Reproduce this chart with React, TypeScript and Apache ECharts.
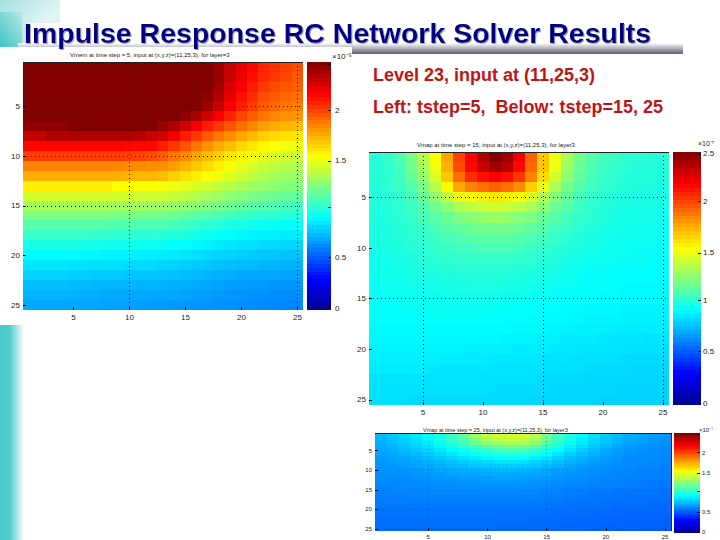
import React, { useEffect, useRef } from "react";
import * as echarts from "echarts";

const TITLE = "Impulse Response RC Network Solver Results";
const NOTE_1 = "Level 23, input at (11,25,3)";
const NOTE_2 = "Left: tstep=5,  Below: tstep=15, 25";
const SUB_1 = "Vmem at time step = 5, input at (x,y,z)=(11,25,3), for layer=3";
const SUB_2 = "Vmap at time step = 15, input at (x,y,z)=(11,25,3), for layer3";
const SUB_3 = "Vmap at time step = 25, input at (x,y,z)=(11,25,3), for layer3";
const EXP_1 = "×10⁻⁵";
const EXP_2 = "×10⁻⁷";
const EXP_3 = "×10⁻⁷";

const CELLS = ["1","2","3","4","5","6","7","8","9","10","11","12","13","14","15","16","17","18","19","20","21","22","23","24","25"];

// Values are in hundredths of a colour-bar unit (0 .. 2.5).
const LEFT = [
[250,250,250,250,250,250,250,250,250,250,250,250,250,250,250,250,250,243,233,225,217,210,207,203,200],
[250,250,250,250,250,250,250,250,250,250,250,250,250,250,250,250,250,245,232,223,216,209,205,202,198],
[250,250,250,250,250,250,250,250,250,250,250,250,250,250,250,250,250,242,228,220,212,205,200,198,196],
[250,250,250,250,250,250,250,250,250,250,250,250,250,250,250,250,247,238,225,215,208,200,197,193,192],
[250,250,250,250,250,250,250,250,250,250,250,250,250,250,250,250,242,232,220,212,204,197,193,190,188],
[250,250,250,250,250,250,250,250,250,250,250,250,250,250,246,240,230,220,210,202,196,190,186,183,182],
[246,246,246,246,250,250,250,250,250,250,250,250,244,238,230,222,212,205,198,192,186,180,177,174,173],
[233,233,238,238,238,238,238,238,238,238,236,232,230,222,212,205,197,190,184,178,173,168,165,163,162],
[218,218,218,218,218,218,218,218,218,217,217,217,212,205,198,190,183,177,172,166,162,158,156,153,152],
[204,204,204,204,204,204,204,204,204,203,202,200,196,190,185,179,173,168,162,158,154,150,147,145,144],
[187,187,187,187,187,187,187,187,186,185,185,184,184,180,175,170,165,160,155,150,147,143,141,138,137],
[176,176,176,176,176,176,176,176,176,175,174,174,172,168,164,160,156,152,148,144,140,137,134,132,131],
[160,160,160,160,160,160,160,160,156,156,156,156,154,152,150,147,144,141,138,135,132,130,128,126,125],
[146,146,146,146,146,146,146,146,146,145,144,144,144,142,140,138,135,132,129,127,124,122,120,119,118],
[134,134,134,134,134,134,134,134,134,133,133,132,132,131,129,127,125,122,120,117,115,113,112,110,109],
[124,124,124,124,124,124,124,124,123,123,122,122,121,120,118,116,114,112,110,108,106,105,104,103,102],
[115,115,115,115,115,115,115,114,114,114,113,113,112,111,109,107,105,103,101,100,98,97,96,95,95],
[107,107,107,107,107,107,106,106,105,105,105,104,103,102,101,99,97,95,94,92,91,90,90,89,89],
[100,100,100,100,100,99,99,98,98,98,97,97,96,95,94,92,91,89,88,87,86,85,85,84,84],
[93,93,93,93,93,92,92,91,91,91,90,90,89,89,88,86,85,84,83,82,81,80,80,79,79],
[88,88,88,88,87,87,86,86,86,85,85,85,84,83,82,81,80,79,78,77,77,76,76,75,75],
[83,83,83,83,82,82,81,81,81,80,80,80,79,79,78,77,76,75,74,73,73,72,72,71,71],
[78,78,78,78,77,77,76,76,76,76,75,75,75,74,74,73,72,71,70,70,69,69,68,68,68],
[75,75,75,75,75,74,74,73,73,73,73,72,72,72,71,70,70,69,68,68,67,67,66,66,66],
[72,72,72,72,72,72,72,71,71,71,70,70,70,69,69,68,68,67,67,66,66,65,65,64,64],
];

const MIDDLE = [
[103,106,112,124,138,156,178,203,219,238,250,242,222,195,170,153,135,122,115,110,107,105,104,103,103],
[103,105,110,122,135,153,175,200,217,232,242,236,217,193,170,152,132,120,113,109,106,104,103,102,102],
[103,105,109,118,130,147,170,192,208,215,220,215,205,187,165,145,128,118,111,107,105,103,102,102,101],
[102,104,108,114,124,138,158,178,187,191,195,191,185,168,150,135,122,114,109,106,104,102,101,101,100],
[102,103,106,111,119,130,142,152,157,160,162,160,156,148,138,127,118,111,107,104,102,101,100,100,100],
[101,103,105,109,114,121,128,136,141,143,145,143,140,135,128,120,114,109,105,103,101,100,100,99,99],
[101,102,104,107,111,116,120,124,127,130,131,130,127,124,119,115,110,106,104,102,100,99,99,99,98],
[100,101,103,105,108,111,115,118,120,122,122,122,120,117,114,110,107,104,102,100,99,98,98,98,97],
[100,101,102,104,106,108,111,113,115,116,116,116,114,112,110,107,104,102,100,99,98,97,97,97,97],
[99,100,101,103,104,106,108,109,110,111,111,111,110,108,106,104,102,100,99,98,97,97,96,96,96],
[98,99,100,101,103,104,105,106,107,107,107,107,106,105,103,102,100,99,98,97,96,96,96,95,95],
[98,98,99,100,101,102,103,104,104,104,104,104,103,102,101,100,98,97,96,96,95,95,95,94,94],
[97,98,98,99,100,100,101,101,102,102,102,101,101,100,99,98,97,96,95,95,95,94,94,94,93],
[96,97,97,98,98,99,99,100,100,100,100,99,99,98,97,96,96,95,94,94,94,93,93,93,92],
[96,96,96,97,97,97,98,98,98,98,98,97,97,96,96,95,95,94,94,93,93,92,92,92,92],
[95,95,95,96,96,96,96,96,96,96,96,95,95,95,94,94,93,93,92,92,92,91,91,91,91],
[94,94,94,94,95,95,95,95,95,95,94,94,94,93,93,93,92,92,91,91,91,90,90,90,90],
[93,93,93,93,93,93,93,93,93,93,93,93,92,92,92,91,91,90,90,90,89,89,89,89,89],
[92,92,92,92,92,92,92,92,92,92,92,91,91,91,90,90,89,89,89,88,88,88,88,87,87],
[91,91,91,91,91,91,91,91,90,90,90,90,89,89,89,88,88,88,87,87,87,87,86,86,86],
[90,90,90,90,90,90,89,89,89,89,88,88,88,88,87,87,87,86,86,86,86,85,85,85,85],
[89,89,89,89,89,88,88,88,88,88,87,87,87,87,86,86,86,86,85,85,85,85,84,84,84],
[87,87,87,87,87,87,87,87,87,86,86,86,86,86,85,85,85,85,84,84,84,84,84,84,83],
[86,86,86,86,86,86,86,86,86,86,85,85,85,85,85,84,84,84,84,84,84,83,83,83,83],
[86,86,86,85,85,85,85,85,85,85,85,85,85,84,84,84,84,84,84,83,83,83,83,83,83],
];

const BOTTOM = [
[76,80,84,88,93,100,108,117,132,142,146,147,146,140,124,111,101,93,86,81,77,74,72,70,69],
[75,79,83,87,92,98,106,114,127,136,140,142,140,134,120,109,99,91,85,80,76,73,71,69,68],
[74,77,81,85,90,96,103,110,120,127,132,134,133,127,115,105,96,88,83,78,74,71,70,68,67],
[73,76,79,83,87,92,98,104,111,117,122,124,123,118,108,99,91,85,80,76,72,69,68,67,66],
[72,74,77,80,84,88,93,98,103,108,112,114,113,108,101,94,87,82,77,73,70,68,67,66,65],
[71,72,74,77,80,84,88,92,96,100,103,104,103,99,94,88,82,78,74,71,69,67,66,65,65],
[69,71,72,74,77,80,83,86,89,92,94,95,94,91,87,82,78,75,72,70,68,66,65,65,64],
[68,70,71,72,74,76,79,81,83,85,87,87,86,84,81,78,75,72,70,68,67,65,65,64,64],
[68,69,70,71,72,74,76,77,79,80,81,81,80,79,77,75,72,70,68,67,66,65,64,64,63],
[67,68,68,69,70,72,73,74,75,76,77,77,76,75,73,71,70,68,67,66,65,64,64,63,63],
[66,67,67,68,69,70,71,72,72,73,73,73,73,72,71,69,68,67,66,65,64,64,63,63,62],
[66,66,66,67,68,68,69,70,70,70,71,71,70,70,69,68,67,66,65,64,64,63,63,62,62],
[65,65,65,66,66,67,67,68,68,69,69,69,68,68,67,66,65,65,64,63,63,62,62,61,61],
[64,64,65,65,65,66,66,66,67,67,67,67,67,66,66,65,64,64,63,63,62,62,61,61,61],
[63,64,64,64,65,65,65,65,65,66,66,66,65,65,64,64,63,63,62,62,61,61,60,60,60],
[63,63,63,63,64,64,64,64,64,64,64,64,64,64,63,63,62,62,61,61,60,60,60,60,59],
[62,62,62,63,63,63,63,63,63,63,63,63,63,63,62,62,61,61,60,60,60,59,59,59,59],
[61,61,62,62,62,62,62,62,62,62,62,62,62,62,61,61,60,60,60,59,59,59,58,58,58],
[61,61,61,61,61,61,61,61,61,61,61,61,61,60,60,60,59,59,59,58,58,58,58,57,57],
[60,60,60,60,60,60,60,60,60,60,60,60,60,60,59,59,59,58,58,58,57,57,57,57,57],
[60,60,60,60,60,60,60,60,60,60,59,59,59,59,59,58,58,58,57,57,57,56,56,56,56],
[59,59,59,59,59,59,59,59,59,59,59,59,58,58,58,58,57,57,57,56,56,56,56,56,55],
[58,58,58,58,58,58,58,58,58,58,58,58,58,57,57,57,57,56,56,56,56,55,55,55,55],
[58,58,58,58,58,58,58,58,58,58,57,57,57,57,57,57,56,56,56,55,55,55,55,55,55],
[57,57,57,57,57,57,57,57,57,57,57,57,57,56,56,56,56,56,55,55,55,55,55,54,54],
];

const BAR_LEVELS = [2,6,10,14,18,22,26,30,33,37,41,45,49,53,57,61,65,69,73,77,81,84,88,92,96,100,104,108,112,116,120,124,127,131,135,139,143,147,151,155,159,163,167,170,174,178,182,186,190,194,198,202,206,210,214,218,222,225,229,233,237,241,245,249];
const BAR_TICKS = [0, 13, 26, 38, 51, 63];
const BAR_LABELS_1 = ["0", "0.5", "", "1.5", "2", ""];
const BAR_LABELS_2 = ["0", "0.5", "1", "1.5", "2", "2.5"];
const BAR_LABELS_3 = ["0", "0.5", "", "1.5", "2", ""];

const JET = ["#00008f", "#0000ff", "#0080ff", "#00ffff", "#80ff80", "#ffff00", "#ff8000", "#ff0000", "#800000"];

const PANELS = [
  { grid: [23, 62, 280, 248], bar: [307, 62, 24, 248], values: LEFT, labels: BAR_LABELS_1, font: 8, barMargin: 4, xDots: [10, 25], yDots: [5, 10, 15], dotColor: "#111", rightEdge: false },
  { grid: [369, 152, 300, 253], bar: [673, 152, 28, 253], values: MIDDLE, labels: BAR_LABELS_2, font: 8, barMargin: 2, xDots: [5, 15, 25], yDots: [5, 15], dotColor: "#111", rightEdge: false },
  { grid: [375, 433, 296, 100], bar: [674, 433, 26, 100], values: BOTTOM, labels: BAR_LABELS_3, font: 6, barMargin: 2, xDots: [5, 15, 25], yDots: [10, 15, 20], dotColor: "rgba(20,60,120,0.55)", rightEdge: true },
];

const everyFifth = (i: number) => (i + 1) % 5 === 0;

function buildOption() {
  const grid: any[] = [];
  const xAxis: any[] = [];
  const yAxis: any[] = [];
  const extraX: any[] = [];
  const extraY: any[] = [];
  const series: any[] = [];
  const textStyle = { color: "#222", fontFamily: "Liberation Sans" };

  PANELS.forEach((p) => {
    const gi = grid.length;
    grid.push({ left: p.grid[0], top: p.grid[1], width: p.grid[2], height: p.grid[3] });
    const axisIndex = xAxis.length;
    const dots = (marks: number[]) => ({
      show: true, alignWithLabel: true,
      interval: (i: number) => marks.includes(i + 1),
      lineStyle: { color: p.dotColor, type: [1, 3], width: 1 },
    });
    const tick = { show: true, interval: everyFifth, alignWithLabel: true, inside: true, length: 3, lineStyle: { color: "#111" } };
    xAxis.push({
      type: "category", gridIndex: gi, data: CELLS, position: "bottom", z: 5,
      axisLine: { show: false }, axisTick: tick, splitLine: dots(p.xDots),
      axisLabel: { ...textStyle, interval: everyFifth, fontSize: p.font, margin: 3 },
    });
    yAxis.push({
      type: "category", gridIndex: gi, data: CELLS, inverse: true, position: "left", z: 5,
      axisLine: { show: false }, axisTick: tick, splitLine: dots(p.yDots),
      axisLabel: { ...textStyle, interval: everyFifth, fontSize: p.font, margin: 3 },
    });
    series.push({
      type: "heatmap", xAxisIndex: axisIndex, yAxisIndex: axisIndex,
      data: p.values.flatMap((row, r) => row.map((v, c) => [c, r, v])),
      itemStyle: { borderWidth: 0 }, progressive: 0, emphasis: { disabled: true },
    });
    extraX.push({
      type: "category", gridIndex: gi, data: CELLS, position: "top", z: 6,
      axisLine: { show: true, lineStyle: { color: "#222", width: 1 } },
      axisTick: { show: false }, axisLabel: { show: false }, splitLine: { show: false },
    });
    if (p.rightEdge) {
      extraY.push({
        type: "category", gridIndex: gi, data: CELLS, position: "right", z: 6,
        axisLine: { show: true, lineStyle: { color: "#111", width: 1 } },
        axisTick: { show: false }, axisLabel: { show: false }, splitLine: { show: false },
      });
    }

    const bi = grid.length;
    grid.push({ left: p.bar[0], top: p.bar[1], width: p.bar[2], height: p.bar[3] });
    xAxis.push({
      type: "category", gridIndex: bi, data: [""], axisLine: { show: false },
      axisTick: { show: false }, axisLabel: { show: false }, splitLine: { show: false },
    });
    yAxis.push({
      type: "category", gridIndex: bi, position: "right", z: 5,
      data: BAR_LEVELS.map((_, i) => {
        const k = BAR_TICKS.indexOf(i);
        return k >= 0 ? p.labels[k] : "";
      }),
      axisLine: { show: false },
      axisTick: { show: true, inside: true, length: 3, alignWithLabel: true, interval: (i: number) => BAR_TICKS.includes(i), lineStyle: { color: "#111" } },
      splitLine: { show: false },
      axisLabel: { ...textStyle, interval: (i: number) => BAR_TICKS.includes(i), fontSize: p.font, margin: p.barMargin },
    });
    series.push({
      type: "heatmap", xAxisIndex: axisIndex + 1, yAxisIndex: axisIndex + 1,
      data: BAR_LEVELS.map((v, i) => [0, i, v]),
      itemStyle: { borderWidth: 0 }, progressive: 0, emphasis: { disabled: true },
    });
  });

  const grad = (x: number, y: number, x2: number, y2: number, stops: [number, string][]) => ({
    type: "linear", x, y, x2, y2,
    colorStops: stops.map(([offset, color]) => ({ offset, color })),
  });
  const sub = (x: number, y: number, text: string, size: number) => ({
    type: "text", x, y,
    style: { text, fill: "#222", font: `${size}px "Liberation Sans"`, textVerticalAlign: "middle" },
  });

  const graphic = [
    { type: "rect", shape: { x: 0, y: 0, width: 60, height: 23 }, style: { fill: grad(0, 0, 1, 0.4, [[0, "#a6e0e0"], [1, "#e2f5f5"]]) } },
    { type: "rect", shape: { x: 20, y: 23, width: 12, height: 24 }, style: { fill: grad(0, 0, 1, 0, [[0, "#a8e2e2"], [1, "#ffffff"]]) } },
    { type: "rect", shape: { x: 0, y: 12, width: 22, height: 35 }, style: { fill: grad(0, 1, 1, 0, [[0, "#3cc4c4"], [1, "#b8e8e8"]]) } },
    { type: "rect", shape: { x: 0, y: 325, width: 24, height: 215 }, style: { fill: grad(0, 0, 1, 0, [[0, "#48cccc"], [0.4, "#50cece"], [1, "#ffffff"]]) } },
    { type: "rect", shape: { x: 18, y: 43, width: 665, height: 11 }, style: { fill: grad(0, 0, 0, 1, [[0, "#ffffff"], [1, "#5a6070"]]) } },
    { type: "rect", shape: { x: 0, y: 47, width: 352, height: 278 }, style: { fill: "#ffffff" } },
    {
      type: "text", x: 24, y: 33,
      style: {
        text: TITLE, fill: "#000080", font: 'bold 28.5px "Liberation Sans"', textVerticalAlign: "middle",
        textShadowColor: "#a4a4c0", textShadowBlur: 1, textShadowOffsetX: 1, textShadowOffsetY: 1,
      },
    },
    {
      type: "text", x: 373, y: 75,
      style: { text: NOTE_1, fill: "#c01414", font: 'bold 18px "Liberation Sans"', textVerticalAlign: "middle" },
    },
    {
      type: "text", x: 373, y: 107,
      style: { text: NOTE_2, fill: "#c01414", font: 'bold 18px "Liberation Sans"', textVerticalAlign: "middle" },
    },
    sub(70, 55, SUB_1, 6),
    sub(417, 145, SUB_2, 6),
    sub(423, 430, SUB_3, 5.5),
    sub(332, 56, EXP_1, 8),
    sub(698, 143, EXP_2, 7),
    sub(699, 430, EXP_3, 6),
  ];

  return {
    animation: false,
    backgroundColor: "#ffffff",
    grid,
    xAxis: [...xAxis, ...extraX],
    yAxis: [...yAxis, ...extraY],
    series,
    graphic,
    visualMap: {
      show: false, type: "continuous", min: 0, max: 250, dimension: 2,
      seriesIndex: series.map((_, i) => i),
      inRange: { color: JET },
    },
  };
}

export default function App() {
  const ref = useRef<HTMLDivElement>(null);
  useEffect(() => {
    const chart = echarts.init(ref.current!, undefined, { renderer: "svg", width: 720, height: 540 });
    chart.setOption(buildOption() as any);
    const svg = ref.current!.querySelector("svg");
    if (svg) svg.style.shapeRendering = "crispEdges";
    return () => chart.dispose();
  }, []);
  return <div ref={ref} style={{ position: "absolute", left: 0, top: 0, width: 720, height: 540 }} />;
}
